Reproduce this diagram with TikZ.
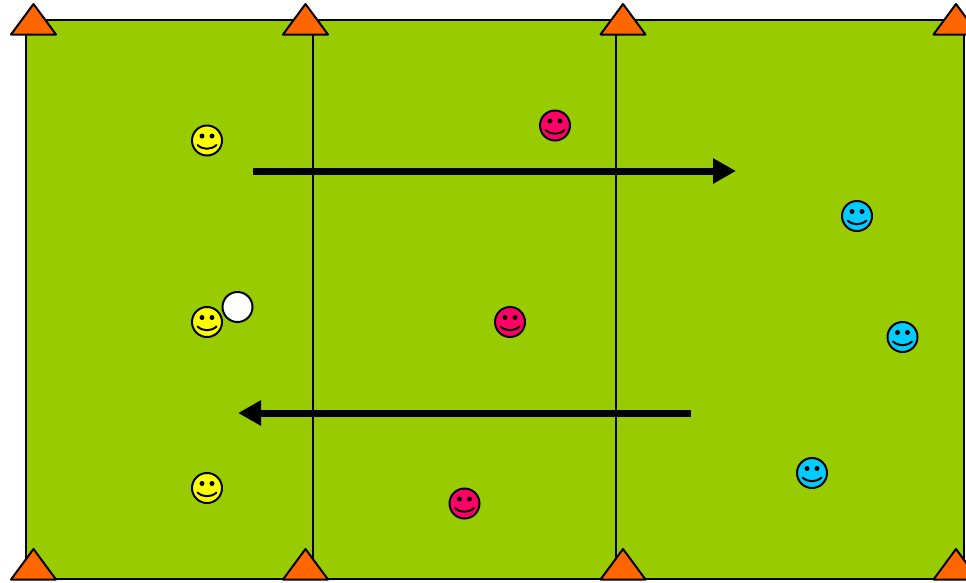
\documentclass[tikz,border=0pt]{standalone}
\usetikzlibrary{arrows.meta}
\definecolor{fieldgreen}{RGB}{153,204,0}
\definecolor{coneorange}{RGB}{255,102,0}
\definecolor{smileyyellow}{RGB}{255,255,0}
\definecolor{smileypink}{RGB}{255,0,102}
\definecolor{smileyblue}{RGB}{0,204,255}
\tikzset{
  outline/.style={draw=black,line width=2pt,line join=miter},
  fieldline/.style={draw=black,line width=2pt},
  conebody/.style={outline,fill=coneorange,line join=round},
  ballbody/.style={outline,fill=white},
  runarrow/.style={draw=black,line width=7pt,-{Triangle[length=23pt,width=24pt]}},
  pics/smiley/.style={code={
    \fill[#1,draw=black,line width=2pt] (0,0) circle (15);
    \fill[black] (-5,-4.5) circle (2.5);
    \fill[black] (5,-4.5) circle (2.5);
    \draw[black,line width=2pt,line cap=round] (-9.5,4.5) .. controls (-4,9.5) and (4,9.5) .. (9.5,4.5);
  }},
  pics/coneup/.style={code={
    \path[conebody] (0,-15.5) -- (22.5,15) -- (-22.5,15) -- cycle;
  }}
}
\begin{document}
\begin{tikzpicture}[x=1pt,y=-1pt]
\useasboundingbox (0,0) rectangle (966,582);
\clip (0,0) rectangle (966,582);
\path[outline,fill=fieldgreen] (26,20) rectangle (963.5,579);
\coordinate (lineAtop) at (313,20);
\coordinate (lineAbot) at (313,579);
\coordinate (lineBtop) at (615.5,20);
\coordinate (lineBbot) at (615.5,579);
\draw[fieldline] (lineAtop) -- (lineAbot);
\draw[fieldline] (lineBtop) -- (lineBbot);
\coordinate (arrowTopStart) at (253,171);
\coordinate (arrowTopEnd) at (736,171);
\coordinate (arrowBotStart) at (691,413);
\coordinate (arrowBotEnd) at (238,413);
\draw[runarrow] (arrowTopStart) -- (arrowTopEnd);
\draw[runarrow] (arrowBotStart) -- (arrowBotEnd);
\foreach \cx in {33.5,305.5,623,956}{
  \pic at (\cx,19.5) {coneup};
  \pic at (\cx,564.5) {coneup};
}
\pic at (207,140.5) {smiley=smileyyellow};
\pic at (207,322) {smiley=smileyyellow};
\pic at (207,488) {smiley=smileyyellow};
\pic at (555,125.5) {smiley=smileypink};
\pic at (510,322) {smiley=smileypink};
\pic at (464.5,503.5) {smiley=smileypink};
\pic at (857,216) {smiley=smileyblue};
\pic at (902.5,337) {smiley=smileyblue};
\pic at (812,473) {smiley=smileyblue};
\path[ballbody] (237.5,307) circle (15);
\end{tikzpicture}
\end{document}
